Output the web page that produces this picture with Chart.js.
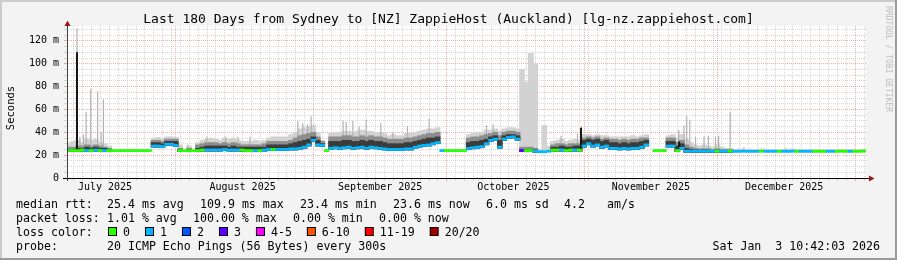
<!DOCTYPE html>
<html>
<head>
  <meta charset="utf-8">
  <title>Last 180 Days from Sydney to [NZ] ZappieHost (Auckland)</title>
  <script src="https://cdn.jsdelivr.net/npm/chart.js"></script>
  <style>
    html, body { margin: 0; padding: 0; background: #f3f3f3; }
    #wrap { width: 897px; height: 260px; }
  </style>
</head>
<body>
  <div id="wrap"><canvas id="rrd" width="897" height="260"></canvas></div>

  <script>
    // one value per day, first day starts Jul 7 2025 10:42 (graph end minus 180 days)
    // median rtt in ms
    const median = [
      24, 24, 24, 24.5, 24, 24, 24.5, 24, 24, 24,
      24, 24, 24, 24, 24, 24, 24, 24, 24, 28,
      28, 27.5, 29.5, 29.5, 28.5, 24, 24, 24, 24, 24,
      24.5, 24.5, 24.5, 24.5, 24.5, 25, 24.5, 24.5, 24.5, 24.5,
      24, 24, 24, 24, 24.5, 25, 25, 25, 25, 25,
      25.5, 25.5, 26, 27, 29, 33, 29, 28.5, 24, 26,
      26.5, 26, 26.5, 27, 26, 26.5, 27, 26, 27, 26.5,
      26, 25.5, 25, 25, 25, 25, 25.5, 25.5, 27, 28,
      28.5, 29, 30, 31, 24, 24, 24, 24, 24, 24,
      26, 26.5, 27, 27.5, 30, 33, 34, 27, 34, 35.5,
      36, 34, 24, 24, 24, 23.5, 23, 23, 23.5, 24.5,
      24.5, 24.5, 24, 24.5, 24.5, 24.5, 28, 30, 28, 29,
      27, 28, 26, 26, 25.5, 26, 25.5, 26, 26, 27,
      29, null, 24, 24, 24, 28, 28, 24, 26, 23.5,
      23.5, 23.5, 23.5, 23.5, 23.5, 23.5, 23.5, 23.5, 23.5, 23.5,
      23.4, 23.4, 23.5, 23.4, 23.4, 23.4, 23.5, 23.4, 23.4, 23.4,
      23.4, 23.4, 23.4, 23.5, 23.4, 23.4, 23.4, 23.4, 23.4, 23.4,
      23.4, 23.4, 23.4, 23.4, 23.5, 23.4, 23.4, 23.4, 23.4, 23.6
    ];
    // index into lossColors for each day
    const lossIdx = [
      0, 0, 0, 0, 1, 0, 1, 0, 1, 0,
      0, 0, 0, 0, 0, 0, 0, 0, 0, 1,
      1, 1, 1, 1, 1, 0, 0, 0, 0, 0,
      0, 1, 1, 1, 1, 1, 1, 1, 1, 0,
      0, 0, 1, 0, 1, 1, 0, 1, 1, 1,
      1, 1, 1, 1, 1, 1, 1, 1, 0, 1,
      1, 1, 1, 1, 1, 1, 1, 1, 1, 1,
      1, 1, 1, 1, 1, 1, 1, 1, 1, 1,
      1, 1, 1, 1, 1, 0, 0, 0, 0, 0,
      1, 1, 1, 1, 1, 1, 1, 1, 1, 1,
      1, 1, 3, 0, 0, 1, 1, 1, 1, 0,
      0, 1, 0, 0, 1, 0, 1, 1, 1, 1,
      1, 1, 1, 1, 1, 1, 1, 1, 1, 1,
      1, 0, 0, 0, 0, 1, 1, 0, 1, 1,
      1, 1, 1, 1, 1, 1, 0, 1, 1, 0,
      1, 1, 1, 1, 1, 1, 0, 1, 1, 1,
      0, 1, 1, 1, 0, 1, 1, 1, 0, 0,
      0, 1, 1, 0, 0, 0, 1, 0, 0, 0
    ];
    // smoke: top of the dark band, the mid band and the light band (ms)
    const smokeDark = [
      25, 25, 26, 26, 27, 26, 27, 26, 26, 25,
      null, null, null, null, null, null, null, null, null, 31,
      31, 30, 32, 32, 32, 25, null, 25, null, 26,
      27, 28, 28, 28, 28, 28, 27, 28, 27, 27,
      27, 27, 27, 27, 27, 29, 29, 29, 29, 29,
      30, 31, 32, 33, 34, 36, 33, 30, null, 32,
      32, 32, 33, 33, 32, 32, 33, 32, 33, 32,
      32, 31, 30, 30, 30, 30, 31, 31, 32, 33,
      34, 35, 35, 36, null, null, null, null, null, null,
      31, 32, 32, 33, 34, 36, 37, 33, 37, 38,
      38, 37, 25, 25, 25, 24.5, null, null, null, 27,
      27, 28, 27, 27, 28, 28, 33, 34, 33, 34,
      32, 33, 31, 31, 30, 31, 30, 31, 31, 32,
      33, null, null, null, null, 32, 32, 28, 30, 26,
      25, 24.5, 24.5, 24.5, 24.5, 24, 24.5, 24, 24, 24,
      null, null, null, null, null, null, null, null, null, null,
      null, null, null, null, null, null, null, null, null, null,
      null, null, null, null, null, null, null, null, null, null
    ];
    const smokeMid = [
      27, 27, 28, 28, 29, 28, 29, 28, 27, 26,
      null, null, null, null, null, null, null, null, null, 33,
      33, 32, 34, 34, 34, 26, null, 26, null, 29,
      30, 31, 31, 31, 30, 31, 30, 31, 30, 29,
      29, 29, 29, 29, 30, 32, 32, 32, 32, 32,
      33, 35, 37, 38, 39, 40, 36, 32, null, 36,
      36, 36, 37, 37, 36, 36, 37, 36, 37, 36,
      36, 35, 34, 34, 34, 34, 35, 35, 36, 37,
      38, 39, 39, 40, null, null, null, null, null, null,
      35, 36, 36, 37, 38, 39, 40, 37, 40, 41,
      41, 40, 27, 27, 27, 26, null, null, null, 29,
      30, 30, 29, 30, 30, 30, 35, 36, 35, 36,
      34, 35, 34, 34, 33, 34, 33, 34, 34, 35,
      35, null, null, null, null, 35, 35, 31, 33, 29,
      27, 26, 25.5, 25.5, 25.5, 25, 25.5, 25, 25, 25,
      null, null, null, null, null, null, null, null, null, null,
      null, null, null, null, null, null, null, null, null, null,
      null, null, null, null, null, null, null, null, null, null
    ];
    const smokeTop = [
      31, 32, 33, 31, 34, 33, 34, 31, 30, 28,
      null, null, null, null, null, null, null, null, null, 35,
      35.5, 34, 36, 36, 35.5, 29, null, 28, null, 31,
      33, 34, 35, 34, 33, 35, 34, 35, 33, 32,
      32, 32, 33, 32, 33, 35, 36, 36, 36, 36,
      38, 40, 43, 44, 45, 46, 40, 33, null, 39,
      40, 40, 41, 41, 40, 41, 42, 41, 41, 40,
      40, 39, 37, 38, 37, 37, 39, 39, 40, 41,
      42, 43, 43, 44, null, null, null, null, null, null,
      38, 39, 40, 40, 42, 42, 43, 41, 43, 44,
      44, 43, 95, 84, 109, 100, 25, 46, 28, 32,
      33, 34, 32, 33, 34, 33, 38, 38, 37, 38,
      37, 37, 36, 36, 36, 36, 36, 37, 36, 37,
      38, null, null, null, null, 37, 38, 35, 38, 34,
      31, 29, 28, 29, 28, 27, 29, 27, 26, 26,
      25, 25.5, 25, 25, 25, 25, 25.5, 25, 25, 25,
      25, 25, 25, 25.5, 25, 25, 25, 25, 25, 25,
      25, 25, 25, 25, 25, 25, 25, 25, 25, 25
    ];
    // single thin outliers (day position, max ms)
    const spikeDays = [2.25, 2.9, 3.7, 4.3, 5.35, 6.9, 7.7, 8.2, 27.2, 31.5, 35.7, 38.5, 41.2,
      52.0, 53.1, 54.2, 55.0, 62.2, 62.9, 64.4, 65.8, 67.4, 70.7, 73.4, 76.7, 81.6, 94.5, 96.0,
      111.3, 115.0, 115.9, 137.8, 139.0, 139.6, 140.3, 141.6, 143.5, 144.5, 146.1, 146.8, 149.4,
      152.5, 162.0];
    const spikeTops = [131, 36, 38, 58, 78, 76, 40, 69, 29, 36, 36, 36, 36,
      50, 48, 47, 54, 50, 49, 50, 45, 51, 48, 40, 45, 52, 46, 47,
      37, 39, 45, 42, 46, 54, 51, 36, 36, 37, 36, 37, 58,
      27, 26];
    // short jumps of the median itself
    const medSpikeDays = [2.25, 115.8, 137.9];
    const medSpikeTops = [110, 44, 32];

    const lossLabels = ['0', '1', '2', '3', '4-5', '6-10', '11-19', '20/20'];
    const lossColors = ['#26ff00', '#00b8ff', '#0059ff', '#5e00ff', '#ff00ff', '#ff5500', '#ff0000', '#a10000'];

    const monthLabels = ['July 2025', 'August 2025', 'September 2025', 'October 2025', 'November 2025', 'December 2025'];
    const yMajor = [0, 20, 40, 60, 80, 100, 120];
    const yLabels = ['0', '20 m', '40 m', '60 m', '80 m', '100 m', '120 m'];

    const legendRows = [
      ['median rtt:', [[107, '25.4 ms avg'], [200, '109.9 ms max'], [300, '23.4 ms min'], [393, '23.6 ms now'], [486, '6.0 ms sd'], [564, '4.2'], [607, 'am/s']]],
      ['packet loss:', [[107, '1.01 % avg'], [193, '100.00 % max'], [293, '0.00 % min'], [379, '0.00 % now']]],
      ['loss color:', []],
      ['probe:', [[107, '20 ICMP Echo Pings (56 Bytes) every 300s']]]
    ];
    const titleText = 'Last 180 Days from Sydney to [NZ] ZappieHost (Auckland) [lg-nz.zappiehost.com]';
    const stampText = 'Sat Jan  3 10:42:03 2026';

    // time axis in days from the graph start
    const DAY = 86400000;
    const tEnd = Date.UTC(2026, 0, 3, 10, 42, 3);
    const tStart = tEnd - 180 * DAY;
    const dayOf = t => (t - tStart) / DAY;

    const xTicks = [];
    for (let i = 0; i < 7; i++) {
      const d = dayOf(Date.UTC(2025, 6 + i, 1));
      if (d > 0 && d < 180) xTicks.push({ value: d, kind: 'major', label: '' });
    }
    for (let e = Math.ceil(tStart / DAY / 2) * 2; e * DAY < tEnd; e += 2) {
      const d = dayOf(e * DAY);
      if (!xTicks.some(t => Math.abs(t.value - d) < 0.01)) xTicks.push({ value: d, kind: 'minor', label: '' });
    }
    monthLabels.forEach((lab, i) => {
      xTicks.push({ value: dayOf(Date.UTC(2025, 6 + i, 16)), kind: 'label', label: lab });
    });
    xTicks.sort((a, b) => a.value - b.value);

    const yTickVals = [];
    for (let v = 0; v <= 130; v += 5) yTickVals.push(v);

    const MAJOR = 'rgba(230, 90, 90, 0.5)';
    const MINOR = 'rgba(190, 190, 190, 0.6)';
    const MONO = '"DejaVu Sans Mono", monospace';

    function band(tops) {
      return tops.map((t, i) => ({
        x: i + 0.5,
        y: (t == null || median[i] == null) ? null : [median[i] - 1, t]
      }));
    }
    function spikes(days, tops) {
      const pts = [];
      days.forEach((d, i) => {
        const base = median[Math.floor(d)];
        pts.push({ x: d, y: base }, { x: d, y: tops[i] }, { x: d, y: null });
      });
      return pts;
    }

    const rrdFrame = {
      id: 'rrdFrame',
      beforeDraw(chart) {
        const { ctx, chartArea: a, width, height } = chart;
        ctx.save();
        ctx.fillStyle = '#f3f3f3';
        ctx.fillRect(0, 0, width, height);
        ctx.fillStyle = '#cbcbcb';
        ctx.fillRect(0, 0, width, 2);
        ctx.fillRect(0, 0, 2, height);
        ctx.fillStyle = '#9b9b9b';
        ctx.fillRect(0, height - 2, width, 2);
        ctx.fillRect(width - 2, 0, 2, height);
        ctx.fillStyle = '#ffffff';
        ctx.fillRect(a.left, a.top, a.right - a.left, a.bottom - a.top);
        ctx.restore();
      },
      afterDatasetsDraw(chart) {
        const { ctx, chartArea: a } = chart;
        ctx.save();
        // axes
        ctx.lineWidth = 1;
        ctx.strokeStyle = '#000';
        ctx.beginPath();
        ctx.moveTo(a.left - 4, a.bottom + 0.5);
        ctx.lineTo(a.right + 4, a.bottom + 0.5);
        ctx.stroke();
        ctx.strokeStyle = '#404040';
        ctx.beginPath();
        ctx.moveTo(a.left + 0.5, a.bottom + 3);
        ctx.lineTo(a.left + 0.5, a.top - 1);
        ctx.stroke();
        // arrows
        ctx.fillStyle = '#a01515';
        ctx.beginPath();
        ctx.moveTo(a.left - 2.5, a.top);
        ctx.lineTo(a.left + 3.5, a.top);
        ctx.lineTo(a.left + 0.5, a.top - 5.5);
        ctx.closePath();
        ctx.fill();
        ctx.beginPath();
        ctx.moveTo(a.right + 3, a.bottom - 2.5);
        ctx.lineTo(a.right + 3, a.bottom + 3.5);
        ctx.lineTo(a.right + 8.5, a.bottom + 0.5);
        ctx.closePath();
        ctx.fill();
        ctx.restore();
      },
      afterDraw(chart) {
        const { ctx, width } = chart;
        ctx.save();
        ctx.fillStyle = '#000';
        ctx.textBaseline = 'alphabetic';
        // title
        ctx.font = '13px ' + MONO;
        ctx.textAlign = 'center';
        ctx.fillText(titleText, width / 2, 23);
        // unit label
        ctx.save();
        ctx.translate(11, 108);
        ctx.rotate(-Math.PI / 2);
        ctx.font = '10.5px ' + MONO;
        ctx.textBaseline = 'middle';
        ctx.fillText('Seconds', 0, 0);
        ctx.restore();
        // watermark
        ctx.save();
        ctx.translate(888, 59);
        ctx.rotate(Math.PI / 2);
        ctx.font = '8px ' + MONO;
        ctx.fillStyle = '#bdbdbd';
        ctx.textBaseline = 'middle';
        ctx.fillText('RRDTOOL / TOBI OETIKER', 0, 0);
        ctx.restore();
        // legend block
        ctx.font = '11.6px ' + MONO;
        ctx.textAlign = 'left';
        const baselines = [208, 222, 236, 250];
        legendRows.forEach((row, r) => {
          ctx.fillText(row[0], 16, baselines[r]);
          row[1].forEach(([x, txt]) => ctx.fillText(txt, x, baselines[r]));
        });
        let x = 108;
        lossLabels.forEach((lab, i) => {
          ctx.fillStyle = '#000';
          ctx.fillRect(x, 227, 9, 9);
          ctx.fillStyle = lossColors[i];
          ctx.fillRect(x + 1, 228, 7, 7);
          ctx.fillStyle = '#000';
          ctx.fillText(lab, x + 15, baselines[2]);
          x += 15 + ctx.measureText(lab).width + 15;
        });
        ctx.textAlign = 'right';
        ctx.fillText(stampText, 880, baselines[3]);
        ctx.restore();
      }
    };

    const ctx = document.getElementById('rrd').getContext('2d');
    const chart = new Chart(ctx, {
      type: 'bar',
      data: {
        datasets: [
          { label: 'smoke light', data: band(smokeTop), backgroundColor: '#d2d2d2', barThickness: 5, order: 7 },
          { type: 'line', label: 'outliers', data: spikes(spikeDays, spikeTops), borderColor: '#b2b2b2', borderWidth: 1.2, pointRadius: 0, spanGaps: false, order: 6 },
          { label: 'smoke mid', data: band(smokeMid), backgroundColor: '#8e8e8e', barThickness: 5, order: 5 },
          { label: 'smoke dark', data: band(smokeDark), backgroundColor: '#3c3c3c', barThickness: 5, order: 4 },
          { type: 'line', label: 'median jumps', data: spikes(medSpikeDays, medSpikeTops), borderColor: '#151515', borderWidth: 2, pointRadius: 0, spanGaps: false, order: 3 },
          {
            label: 'median rtt',
            data: median.map((m, i) => ({ x: i + 0.5, y: m == null ? null : [m - 0.9, m + 0.9] })),
            backgroundColor: c => lossColors[lossIdx[c.dataIndex]],
            barThickness: 4.6,
            order: 2
          }
        ]
      },
      options: {
        responsive: false,
        animation: false,
        devicePixelRatio: 1,
        events: [],
        layout: { padding: { top: 26, right: 31, bottom: 62, left: 0 } },
        datasets: { bar: { grouped: false, borderWidth: 0 } },
        plugins: {
          legend: { display: false },
          title: { display: false },
          tooltip: { enabled: false }
        },
        scales: {
          x: {
            type: 'linear',
            min: 0,
            max: 180,
            offset: false,
            afterFit: s => { s.height = 20; },
            afterBuildTicks: s => { s.ticks = xTicks.map(t => ({ value: t.value })); },
            grid: {
              offset: false,
              tickLength: 3,
              color: c => xTicks[c.index] && xTicks[c.index].kind === 'major' ? MAJOR :
                (xTicks[c.index] && xTicks[c.index].kind === 'minor' ? MINOR : 'rgba(0,0,0,0)')
            },
            border: { display: false, dash: [1, 1] },
            ticks: {
              autoSkip: false,
              maxRotation: 0,
              padding: 0,
              color: '#000',
              font: { family: MONO, size: 10 },
              callback: (v, i) => xTicks[i] ? xTicks[i].label : ''
            }
          },
          y: {
            min: 0,
            max: 133,
            afterFit: s => { s.width = 67; },
            afterBuildTicks: s => { s.ticks = yTickVals.map(v => ({ value: v })); },
            grid: {
              tickLength: 3,
              color: c => yMajor.includes(c.tick.value) ? MAJOR : MINOR
            },
            border: { display: false, dash: [1, 1] },
            ticks: {
              autoSkip: false,
              padding: 5,
              color: '#000',
              font: { family: MONO, size: 10 },
              callback: v => {
                const i = yMajor.indexOf(v);
                return i >= 0 ? yLabels[i] : '';
              }
            }
          }
        }
      },
      plugins: [rrdFrame]
    });
  </script>
</body>
</html>
